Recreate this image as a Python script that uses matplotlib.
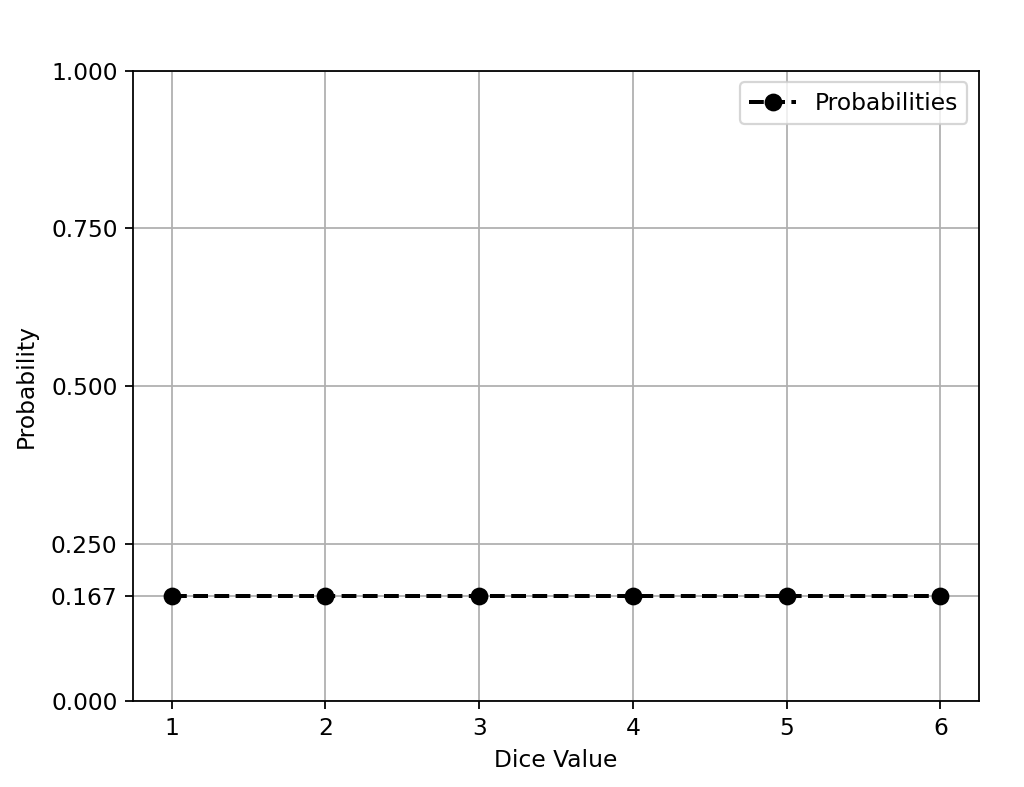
import matplotlib
matplotlib.use("Agg")
import matplotlib.pyplot as plt

dice_values = [1, 2, 3, 4, 5, 6]
probabilities = [1/6] * 6
y_ticks = [0.0, 1/6, 0.25, 0.5, 0.75, 1.0]

plt.rcParams['font.size'] = 10.5
fig = plt.figure(figsize=(1024/160, 787/160), dpi=160)
ax = fig.add_axes([0.130, 0.109, 0.826, 0.801])
ax.plot(dice_values, probabilities, 'o--', color='black', linewidth=1.8, markersize=7, label='Probabilities')
ax.set_ylim(0, 1)
ax.set_yticks(y_ticks)
ax.set_yticklabels([f"{t:.3f}" for t in y_ticks])
ax.set_xticks(dice_values)
ax.set_xlabel('Dice Value')
ax.set_ylabel('Probability', labelpad=6)
ax.grid(True)
ax.legend(loc='upper right')
fig.savefig('out.png', dpi=160)
